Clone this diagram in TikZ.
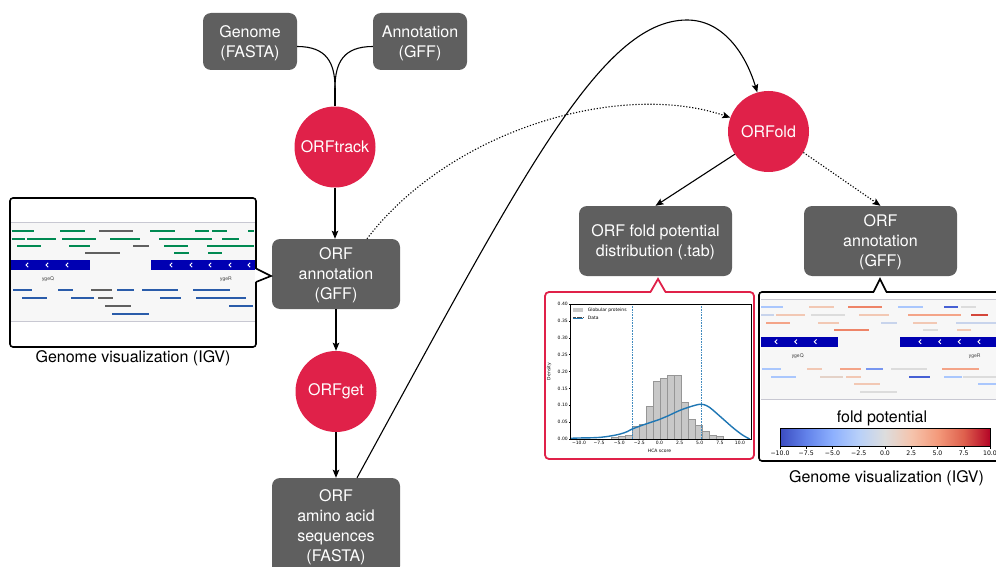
\documentclass[tikz,border=0pt]{standalone}
\usepackage{fontspec}
\setmainfont{TeX Gyre Heros}
\newfontfamily\plotfont{DejaVu Sans}
\usetikzlibrary{arrows.meta,calc}

% palette
\definecolor{boxgray}{HTML}{5F5F5F}
\definecolor{orfred}{HTML}{E02149}
\definecolor{igvgreen}{RGB}{0,138,82}
\definecolor{igvgray}{RGB}{96,96,96}
\definecolor{igvblue}{RGB}{42,92,170}
\definecolor{genecol}{RGB}{0,0,178}
\definecolor{trackbg}{RGB}{247,247,247}
\definecolor{trackline}{RGB}{200,200,210}
\definecolor{kdeblue}{RGB}{31,119,180}
\definecolor{histgray}{RGB}{200,200,200}
\definecolor{histedge}{RGB}{150,150,150}
\definecolor{cwLB}{RGB}{170,199,253}
\definecolor{cwPE}{RGB}{242,200,180}
\definecolor{cwOR}{RGB}{238,132,104}
\definecolor{cwBL}{RGB}{70,96,212}
\definecolor{cwLG}{RGB}{220,220,220}
\definecolor{cwBG}{RGB}{200,212,236}
\definecolor{cwSA}{RGB}{244,164,136}
\definecolor{cwRD}{RGB}{212,70,58}
\definecolor{cwMB}{RGB}{120,150,240}
\definecolor{cwPG}{RGB}{228,210,200}

% coolwarm colour map for the colour bar
\pgfdeclarehorizontalshading{coolwarm}{100bp}{%
  rgb(0bp)=(0.231,0.298,0.753); rgb(25bp)=(0.231,0.298,0.753);
  rgb(31.25bp)=(0.384,0.510,0.918); rgb(37.5bp)=(0.553,0.690,0.996);
  rgb(43.75bp)=(0.722,0.816,0.976); rgb(50bp)=(0.867,0.867,0.867);
  rgb(56.25bp)=(0.961,0.769,0.678); rgb(62.5bp)=(0.957,0.604,0.482);
  rgb(68.75bp)=(0.871,0.376,0.302); rgb(75bp)=(0.706,0.016,0.149);
  rgb(100bp)=(0.706,0.016,0.149)}

\tikzset{
  databox/.style={fill=boxgray, rounded corners=8pt, text=white, align=center,
    font=\fontsize{16}{20}\selectfont, inner sep=0pt, text depth=-1.5pt},
  tool/.style={circle, fill=orfred, text=white, font=\fontsize{16}{20}\selectfont,
    inner sep=0pt, minimum size=81pt},
  link/.style={line width=1.1pt},
  flow/.style={line width=1.1pt, -{Stealth[length=8pt,width=6.5pt,inset=1.5pt]}},
  dotflow/.style={flow, dash pattern=on 1.2pt off 1.8pt},
  feat/.style={line width=1.8pt},
  panel/.style={line width=1.6pt, rounded corners=3pt},
  caption/.style={font=\fontsize{16}{20}\selectfont},
  tinylbl/.style={font=\fontsize{5}{6}\selectfont, text=black!75, inner sep=0pt},
  axlbl/.style={font=\plotfont\fontsize{4.5}{5}\selectfont, inner sep=0.6pt},
  cbarlbl/.style={font=\plotfont\fontsize{6.2}{7}\selectfont, inner sep=0pt},
  chev/.style={white, line width=0.9pt},
}

\begin{document}
\begin{tikzpicture}[x=1pt, y=-1pt]
\useasboundingbox (0,0) rectangle (996,567);
\clip (0,0) rectangle (996,567);

% ---------- pipeline nodes ----------
\node[databox, minimum width=94pt, minimum height=57pt] (genome) at (250,41.5) {Genome\\(FASTA)};
\node[databox, minimum width=94pt, minimum height=57pt] (annot) at (420,41.5) {Annotation\\(GFF)};
\node[tool] (orftrack) at (335,147) {ORFtrack};
\node[databox, minimum width=128pt, minimum height=70pt] (orfannot) at (336,274) {ORF\\annotation\\(GFF)};
\node[tool] (orfget) at (336,391.5) {ORFget};
\node[databox, minimum width=128pt, minimum height=96pt] (amino) at (336,526) {ORF\\amino acid\\sequences\\(FASTA)};
\node[tool] (orfold) at (768.5,131.5) {ORFold};
\node[databox, minimum width=153pt, minimum height=70pt] (foldtab) at (655.5,241) {ORF fold potential\\distribution (.tab)};
\node[databox, minimum width=153pt, minimum height=70pt] (gffout) at (880.5,241) {ORF\\annotation\\(GFF)};

% ---------- connectors ----------
\coordinate (merge) at (335,88);
\coordinate (peak) at (687,20);
\draw[link] ($(genome.east)+(0,5)$) .. controls (326,46.5) and (335,62) .. (merge);
\draw[link] ($(annot.west)+(0,5)$) .. controls (344,46.5) and (335,62) .. (merge);
\draw[link] (merge) -- (orftrack.north);
\draw[flow] (orftrack.south) -- (orftrack.south |- orfannot.north);
\draw[flow] (orfannot.south) -- (orfannot.south |- orfget.north);
\draw[flow] (orfget.south) -- (orfget.south |- amino.north);
\draw[flow] ($(amino.north)+(21,0)$) .. controls (520,180) and (600,20) .. (peak)
  .. controls (722,20) and (745,52) .. (orfold.106);
\draw[dotflow] ($(orfannot.north)+(31,0)$) .. controls (450,130) and (620,80) .. (orfold.160);
\draw[flow] (orfold.214) -- (foldtab.north);
\draw[dotflow] (orfold.329) -- (gffout.north);

% ---------- left genome browser view ----------
\fill[white] (10,198) rectangle (256,347);
\fill[trackbg] (11,222) rectangle (255,322);
\draw[trackline, line width=1pt] (11,222) -- (255,222) (11,321) -- (255,321);
\foreach \a/\b in {11.7/34,60/85,150/175,195/209,212/227,248/254}
  \draw[feat,igvgreen] (\a,231) -- (\b,231);
\draw[feat,igvgray] (99,231) -- (133,231);
\foreach \a/\b in {11.7/25,27/56,62/96,110/140,159/212,222/239}
  \draw[feat,igvgreen] (\a,239) -- (\b,239);
\foreach \a/\b in {17/41,69/90,164/188,207/254}
  \draw[feat,igvgreen] (\a,246) -- (\b,246);
\draw[feat,igvgray] (133,246) -- (149,246);
\draw[feat,igvgray] (85,253) -- (120,253);
\foreach \a/\b in {174/189,208/222}
  \draw[feat,igvgreen] (\a,253) -- (\b,253);
\fill[genecol] (11,260) rectangle (90,270);
\fill[genecol] (151,260) rectangle (255,270);
\foreach \x in {27,47,67,171,191,210,230,249}
  \draw[chev] (\x+1.2,262.8) -- (\x-1,265) -- (\x+1.2,267.2);
\node[tinylbl] (lq) at (48,279) {ygeQ};
\node[tinylbl] (lr) at (226,279) {ygeR};
\foreach \a/\b in {13/32,58/73,117/134,142/178,193/230}
  \draw[feat,igvblue] (\a,290) -- (\b,290);
\draw[feat,igvgray] (91,290) -- (112,290);
\foreach \a/\b in {22/47,71/94,160/181,196/246}
  \draw[feat,igvblue] (\a,298) -- (\b,298);
\draw[feat,igvgray] (98,298) -- (113,298);
\draw[feat,igvgray] (105,306) -- (131,306);
\draw[feat,igvblue] (229,306) -- (253,306);
\draw[feat,igvblue] (112,314) -- (149,314);
\draw[panel] (10,198) rectangle (256,347);
\fill[white] (254.9,269) rectangle (257.1,281.5);
\draw[line width=1.6pt, line join=miter] (256,268.5) -- (271,276) -- (256,282);
\node[caption] (lcap) at (133,358) {Genome visualization (IGV)};

% ---------- fold potential distribution plot ----------
\draw[orfred, line width=1.8pt, rounded corners=4pt, fill=white] (545,292) rectangle (754,459);
\fill[white] (651,290.7) rectangle (665,293.3);
\draw[orfred, line width=1.8pt, line join=miter] (650.5,292) -- (658,279) -- (665.5,292);
\begin{scope}[shift={(659.5pt,-439pt)}, x=8.05pt, y=337.5pt]
  \foreach \a/\h in {-6.06/0.004,-5.19/0.008,-4.32/0.012,-3.45/0.038,-2.58/0.045,
      -1.71/0.096,-0.84/0.172,0.03/0.18,0.90/0.19,1.77/0.19,2.64/0.11,3.51/0.059,
      4.38/0.041,5.25/0.024,6.12/0.012,6.99/0.007}
    \filldraw[fill=histgray, draw=histedge, line width=0.35pt] (\a,0) rectangle ++(0.87,\h);
  \draw[kdeblue!85, line width=0.4pt, dash pattern=on 0.6pt off 1pt] (-3.45,0) -- (-3.45,0.4) (5.2,0) -- (5.2,0.4);
  \draw[kdeblue, line width=1.4pt] plot[smooth, tension=0.6] coordinates {
    (-11.1,0.002) (-10,0.003) (-8,0.004) (-6.6,0.007) (-5,0.014) (-4,0.022)
    (-3.45,0.029) (-2,0.042) (0,0.058) (1,0.068) (2.55,0.085) (4,0.097)
    (5,0.103) (5.5,0.102) (6.2,0.094) (7.1,0.076) (8,0.057) (9.2,0.032)
    (10.3,0.012) (11.2,0.0)};
  \draw[line width=0.5pt] (-11.1,0) rectangle (11.4,0.4);
  \foreach \v/\l in {0/0.00,0.05/0.05,0.1/0.10,0.15/0.15,0.2/0.20,0.25/0.25,0.3/0.30,0.35/0.35,0.4/0.40} {
    \draw[line width=0.3pt] (-11.1,\v) -- ++(-0.2,0);
    \node[axlbl, anchor=east] at (-11.3,\v) {\l};
  }
  \foreach \v/\l in {-10/−10.0,-7.5/−7.5,-5/−5.0,-2.5/−2.5,0/0.0,2.5/2.5,5/5.0,7.5/7.5,10/10.0} {
    \draw[line width=0.3pt] (\v,0) -- ++(0,-0.004);
    \node[axlbl, anchor=north] at (\v,-0.005) {\l};
  }
  \node[axlbl] (xl) at (0,-0.036) {HCA score};
  \node[axlbl, rotate=90] (yl) at (-13.7,0.2) {Density};
  \fill[histgray] (-10.75,0.376) rectangle (-9.5,0.388);
  \node[axlbl, anchor=west] (lg1) at (-9.0,0.382) {Globular proteins};
  \draw[black!70, line width=0.45pt, dash pattern=on 0.6pt off 0.6pt] (-10.75,0.362) -- (-9.5,0.362);
  \draw[kdeblue, line width=1pt] (-10.75,0.356) -- (-9.5,0.356);
  \node[axlbl, anchor=west] (lg2) at (-9.0,0.358) {Data};
\end{scope}

% ---------- right genome browser view with fold potential ----------
\fill[white] (759,292) rectangle (1003,461);
\fill[trackbg] (761,299) rectangle (1000,399);
\draw[trackline, line width=1pt] (761,299) -- (1000,299) (761,399) -- (1000,399);
\foreach \a/\b/\c in {761/783/cwLB,809/834/cwPE,848/882/cwOR,898/923/cwLB,944/958/cwBL,961/976/cwLG}
  \draw[feat,\c] (\a,306.7) -- (\b,306.7);
\foreach \a/\b/\c in {761/774/cwBG,776/805/cwPE,811/845/cwLG,859/889/cwPE,908/961/cwSA,971/988/cwRD}
  \draw[feat,\c] (\a,314.7) -- (\b,314.7);
\foreach \a/\b/\c in {766/790/cwSA,818/839/cwPE,881/897/cwBG,913/937/cwPE,956/998/cwBG}
  \draw[feat,\c] (\a,322.7) -- (\b,322.7);
\foreach \a/\b/\c in {834/869/cwOR,923/938/cwLG,957/971/cwPE}
  \draw[feat,\c] (\a,329.7) -- (\b,329.7);
\fill[genecol] (761,336.7) rectangle (838,346.7);
\fill[genecol] (900,336.7) rectangle (1000,346.7);
\foreach \x in {776,795.7,815.3,920,939.7,959.3,979}
  \draw[chev] (\x+1.2,339.5) -- (\x-1,341.7) -- (\x+1.2,343.9);
\node[tinylbl] (rq) at (797.7,356) {ygeQ};
\node[tinylbl] (rr) at (974.7,356) {ygeR};
\foreach \a/\b/\c in {762/781/cwLB,807/822/cwPE,840/861/cwSA,866/883/cwMB,891/927/cwLG,942/979/cwSA}
  \draw[feat,\c] (\a,368.7) -- (\b,368.7);
\foreach \a/\b/\c in {771/796/cwLB,820/843/cwPG,846/861/cwPE,909/930/cwBL,944/962/cwLB,963/998/cwLG}
  \draw[feat,\c] (\a,376.7) -- (\b,376.7);
\draw[feat,cwPE] (854,383.7) -- (880,383.7);
\draw[feat,cwLB] (978,383.7) -- (998,383.7);
\draw[feat,cwLG] (860,391.7) -- (897,391.7);
\node[caption] (fp) at (882,418) {fold potential};
\shade[shading=coolwarm] (780,428) rectangle (990,446);
\draw[line width=0.8pt] (780,428) rectangle (990,446);
\foreach \i/\l in {0/−10.0,1/−7.5,2/−5.0,3/−2.5,4/0.0,5/2.5,6/5.0,7/7.5,8/10.0} {
  \draw[line width=0.5pt] (780+\i*26.25,446) -- ++(0,2.5);
  \node[cbarlbl] at (780+\i*26.25,453.2) {\l};
}
\draw[panel] (759,292) rectangle (1003,461);
\fill[white] (874,290.9) rectangle (886,293.1);
\draw[line width=1.6pt, line join=miter] (873.5,292) -- (880,279) -- (886.5,292);
\node[caption] (rcap) at (886.5,478) {Genome visualization (IGV)};
\end{tikzpicture}
\end{document}
